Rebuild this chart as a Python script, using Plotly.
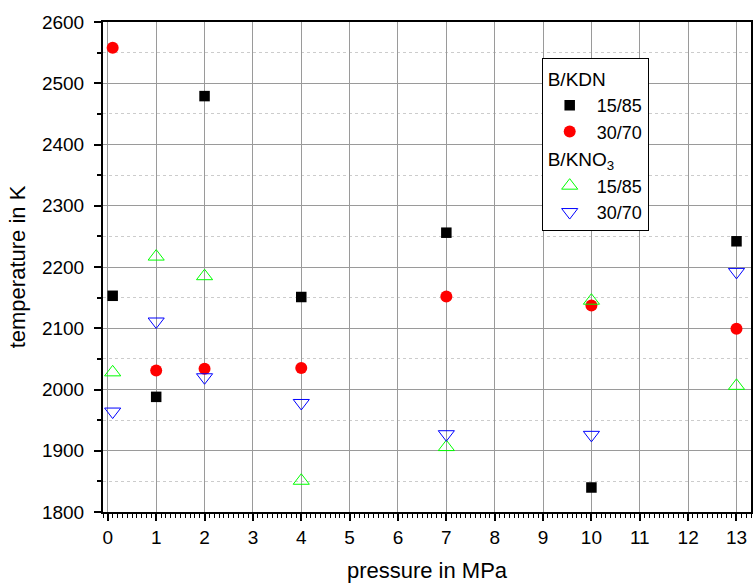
import plotly.graph_objects as go

pressure = [0.1, 1, 2, 4, 7, 10, 13]
kdn_15_85 = [2153, 1988, 2479, 2151, 2256, 1840, 2242]
kdn_30_70 = [2558, 2031, 2034, 2035, 2152, 2137, 2099]
kno3_15_85 = [2028, 2217, 2185, 1851, 1906, 2145, 2006]
kno3_30_70 = [1964, 2111, 2020, 1978, 1927, 1926, 2192]

FONT = "Arial, Liberation Sans, sans-serif"

fig = go.Figure()
fig.add_trace(go.Scatter(x=pressure, y=kdn_15_85, mode="markers", name="15/85",
                         legendgroup="kdn", legendgrouptitle_text="B/KDN",
                         marker=dict(symbol="square", size=10.5, color="black")))
fig.add_trace(go.Scatter(x=pressure, y=kdn_30_70, mode="markers", name="30/70",
                         legendgroup="kdn",
                         marker=dict(symbol="circle", size=12, color="#ff0000")))
fig.add_trace(go.Scatter(x=pressure, y=kno3_15_85, mode="markers", name="15/85",
                         legendgroup="kno3", legendgrouptitle_text="B/KNO<sub>3</sub>",
                         marker=dict(symbol="triangle-up-open", size=14, color="#00ff00",
                                     line=dict(width=1, color="#00ff00"))))
fig.add_trace(go.Scatter(x=pressure, y=kno3_30_70, mode="markers", name="30/70",
                         legendgroup="kno3",
                         marker=dict(symbol="triangle-down-open", size=14, color="#0000ff",
                                     line=dict(width=1, color="#0000ff"))))

fig.update_layout(
    width=755, height=583,
    margin=dict(l=103, r=2, t=22, b=71),
    paper_bgcolor="white", plot_bgcolor="white",
    font=dict(family=FONT, size=19, color="black"),
    showlegend=True,
    legend=dict(x=0.677, y=0.926, xanchor="left", yanchor="top",
                bordercolor="black", borderwidth=1, bgcolor="white",
                font=dict(size=18), tracegroupgap=0, itemwidth=44,
                grouptitlefont=dict(size=19)),
    xaxis=dict(range=[-0.1, 13.3], dtick=1, tick0=0,
               showline=True, linecolor="black", linewidth=2, mirror=True,
               ticks="outside", ticklen=7, tickwidth=1.5, tickcolor="black",
               tickfont=dict(size=19),
               showgrid=True, gridcolor="#9a9a9a", gridwidth=1, zeroline=False,
               minor=dict(dtick=0.1, ticks="outside", ticklen=4, tickwidth=1,
                          tickcolor="black", showgrid=False),
               title=dict(text="pressure in MPa", font=dict(size=22), standoff=16)),
    yaxis=dict(range=[1800, 2600], dtick=100,
               showline=True, linecolor="black", linewidth=2, mirror=True,
               ticks="outside", ticklen=7, tickwidth=1.5, tickcolor="black",
               tickfont=dict(size=19), ticklabelstandoff=6,
               showgrid=True, gridcolor="#9a9a9a", gridwidth=1, zeroline=False,
               minor=dict(dtick=50, ticks="outside", ticklen=4, tickwidth=1.5,
                          tickcolor="black", showgrid=True, gridcolor="#cccccc",
                          griddash="dot", gridwidth=1),
               title=dict(text="temperature in K", font=dict(size=22), standoff=10)),
)

fig.write_html("out.html")
